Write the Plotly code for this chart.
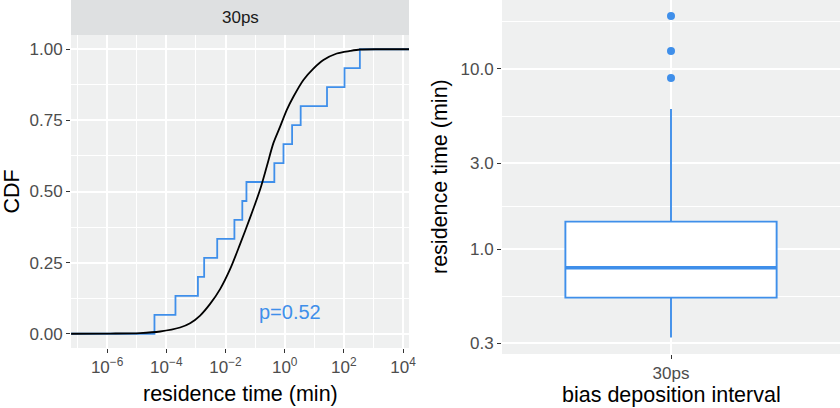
import math
import plotly.graph_objects as go

# ---------------- data ----------------
# Left panel: empirical residence times (min) for 30ps run (15 events)
RES_TIMES = [3.98e-5, 2.04e-4, 1.17e-3, 1.90e-3, 5.25e-3, 0.020, 0.037, 0.051,
             0.447, 0.91, 1.78, 3.47, 26.9, 105.0, 347.0]
# Left panel: fitted theoretical CDF
FIT_T = [6.08e-8, 1.26e-6, 1.30e-5, 6.18e-5, 2.92e-4, 6.37e-4, 1.39e-3, 3.02e-3, 6.58e-3,
         0.0143, 0.0311, 0.0678, 0.1476, 0.248, 0.415, 0.700, 1.178, 1.968, 4.29, 9.33,
         20.3, 57.5, 161.8, 352.0, 1660.0, 15850.0]
FIT_CDF = [0.0, 0.0008, 0.0025, 0.008, 0.022, 0.037, 0.064, 0.105, 0.157,
           0.227, 0.315, 0.408, 0.507, 0.588, 0.670, 0.728, 0.787, 0.833, 0.892, 0.932,
           0.962, 0.985, 0.994, 0.999, 1.0, 1.0]
P_LABEL = "p=0.52"
STRIP_LABEL = "30ps"

# Right panel: box-plot summary of residence time (min)
CATEGORY = "30ps"
Q1 = 0.537
MEDIAN = 0.787
Q3 = 1.42
LOWER_WHISKER = 0.323
UPPER_WHISKER = 6.0
OUTLIERS = [8.9, 12.6, 19.7]

LEFT_Y_TICKS = [0, 0.25, 0.5, 0.75, 1.0]
LEFT_Y_LABELS = ["0.00", "0.25", "0.50", "0.75", "1.00"]
LEFT_X_TICKS = [1e-6, 1e-4, 1e-2, 1e0, 1e2, 1e4]
LEFT_X_LABELS = ["10<sup>−6</sup>", "10<sup>−4</sup>", "10<sup>−2</sup>",
                 "10<sup>0</sup>", "10<sup>2</sup>", "10<sup>4</sup>"]
RIGHT_Y_TICKS = [0.3, 1.0, 3.0, 10.0]
RIGHT_Y_LABELS = ["0.3", "1.0", "3.0", "10.0"]

# ---------------- style ----------------
BLUE = "#3F8FEA"
PANEL_BG = "#EFF0F0"
STRIP_BG = "#DEE0E1"
FONT = "Liberation Sans, Arial, sans-serif"
TICK_FONT = dict(family=FONT, size=17, color="#4D4D4D")
TITLE_FONT = dict(family=FONT, size=21.5, color="#000000")
BOX_WIDTH = 0.75

LX_RANGE = [-7.22, 4.2]
LY_RANGE = [-0.05, 1.05]
RY_RANGE = [-0.583, 1.383]
RX_RANGE = [-0.6, 0.6]

W, H = 840, 408
L_DOM_X = [71 / W, 409 / W]
L_DOM_Y = [1 - 348 / H, 1 - 35 / H]
R_DOM_X = [502 / W, 1.0]
R_DOM_Y = [1 - 354 / H, 1.0]

fig = go.Figure()

# ECDF step line
n = len(RES_TIMES)
xs = sorted(RES_TIMES)
step_x = [10 ** LX_RANGE[0]] + xs + [10 ** LX_RANGE[1]]
step_y = [0.0] + [(i + 1) / n for i in range(n)] + [1.0]
fig.add_trace(go.Scatter(x=step_x, y=step_y, mode="lines", line=dict(color=BLUE, width=1.8, shape="hv"),
                         xaxis="x", yaxis="y", showlegend=False, hoverinfo="skip"))
# Fitted CDF
fig.add_trace(go.Scatter(x=FIT_T, y=FIT_CDF, mode="lines",
                         line=dict(color="#000000", width=1.8, shape="spline", smoothing=0.8),
                         xaxis="x", yaxis="y", showlegend=False, hoverinfo="skip"))

# Box plot (precomputed)
fig.add_trace(go.Box(x=[0], q1=[Q1], median=[MEDIAN], q3=[Q3], lowerfence=[LOWER_WHISKER],
                     upperfence=[UPPER_WHISKER], width=BOX_WIDTH, fillcolor="white",
                     line=dict(color=BLUE, width=1.9), whiskerwidth=0, boxpoints=False,
                     xaxis="x2", yaxis="y2", showlegend=False, hoverinfo="skip"))
# Thick median
fig.add_trace(go.Scatter(x=[-BOX_WIDTH / 2, BOX_WIDTH / 2], y=[MEDIAN, MEDIAN], mode="lines",
                         line=dict(color=BLUE, width=3.6), xaxis="x2", yaxis="y2",
                         showlegend=False, hoverinfo="skip"))
# Outliers
fig.add_trace(go.Scatter(x=[0] * len(OUTLIERS), y=OUTLIERS, mode="markers",
                         marker=dict(color=BLUE, size=8), xaxis="x2", yaxis="y2",
                         showlegend=False, hoverinfo="skip"))

common = dict(showline=False, zeroline=False, ticks="outside", ticklen=4, tickwidth=1.1,
              tickcolor="#333333", gridcolor="white", gridwidth=1.5, tickfont=TICK_FONT,
              automargin=False)

lx_minor = [10 ** e for e in range(-7, 5) if e % 2 != 0]
ry_minor = [10 ** ((math.log10(a) + math.log10(b)) / 2) for a, b in zip(RIGHT_Y_TICKS[:-1], RIGHT_Y_TICKS[1:])]
ry_minor.append(10 ** (math.log10(RIGHT_Y_TICKS[-1]) +
                       (math.log10(RIGHT_Y_TICKS[1]) - math.log10(RIGHT_Y_TICKS[0])) / 2))

fig.update_layout(
    width=W, height=H, margin=dict(l=0, r=0, t=0, b=0, pad=0), autosize=False,
    paper_bgcolor="white", plot_bgcolor=PANEL_BG,
    xaxis=dict(domain=L_DOM_X, anchor="y", type="log", range=LX_RANGE,
               tickmode="array", tickvals=LEFT_X_TICKS, ticktext=LEFT_X_LABELS,
               minor=dict(tickvals=lx_minor, showgrid=True, gridcolor="white", gridwidth=0.7, ticks=""),
               **common),
    yaxis=dict(domain=L_DOM_Y, anchor="x", range=LY_RANGE,
               tickmode="array", tickvals=LEFT_Y_TICKS, ticktext=LEFT_Y_LABELS,
               minor=dict(tickvals=[0.125, 0.375, 0.625, 0.875], showgrid=True, gridcolor="white",
                          gridwidth=0.7, ticks=""),
               **common),
    xaxis2=dict(domain=R_DOM_X, anchor="y2", range=RX_RANGE,
                tickmode="array", tickvals=[0], ticktext=[CATEGORY], **common),
    yaxis2=dict(domain=R_DOM_Y, anchor="x2", type="log", range=RY_RANGE,
                tickmode="array", tickvals=RIGHT_Y_TICKS, ticktext=RIGHT_Y_LABELS,
                minor=dict(tickvals=ry_minor, showgrid=True, gridcolor="white", gridwidth=0.7, ticks=""),
                **common),
    shapes=[dict(type="rect", xref="paper", yref="paper", x0=L_DOM_X[0], x1=L_DOM_X[1],
                 y0=L_DOM_Y[1], y1=1.0, fillcolor=STRIP_BG, line=dict(width=0), layer="below")],
    annotations=[
        dict(text=STRIP_LABEL, xref="paper", yref="paper", x=(L_DOM_X[0] + L_DOM_X[1]) / 2,
             y=(L_DOM_Y[1] + 1.0) / 2, showarrow=False, xanchor="center", yanchor="middle",
             font=dict(family=FONT, size=17, color="#1A1A1A")),
        dict(text=P_LABEL, xref="x", yref="y", x=0.17, y=0.075, showarrow=False,
             xanchor="center", yanchor="middle", font=dict(family=FONT, size=20, color=BLUE)),
        dict(text="CDF", xref="paper", yref="paper", x=11 / W, y=1 - 191.5 / H, textangle=-90,
             showarrow=False, xanchor="center", yanchor="middle", font=TITLE_FONT),
        dict(text="residence time (min)", xref="paper", yref="paper", x=240 / W, y=1 - 394 / H,
             showarrow=False, xanchor="center", yanchor="middle", font=TITLE_FONT),
        dict(text="residence time (min)", xref="paper", yref="paper", x=440 / W, y=1 - 177 / H,
             textangle=-90, showarrow=False, xanchor="center", yanchor="middle", font=TITLE_FONT),
        dict(text="bias deposition interval", xref="paper", yref="paper", x=671 / W, y=1 - 395 / H,
             showarrow=False, xanchor="center", yanchor="middle", font=TITLE_FONT),
    ],
)

fig.write_html("out.html",
               config={"displayModeBar": False, "responsive": False},
               post_script="document.body.style.margin='0';document.body.style.padding='0';"
                           "document.documentElement.style.overflow='hidden';"
                           "document.body.style.overflow='hidden';")
